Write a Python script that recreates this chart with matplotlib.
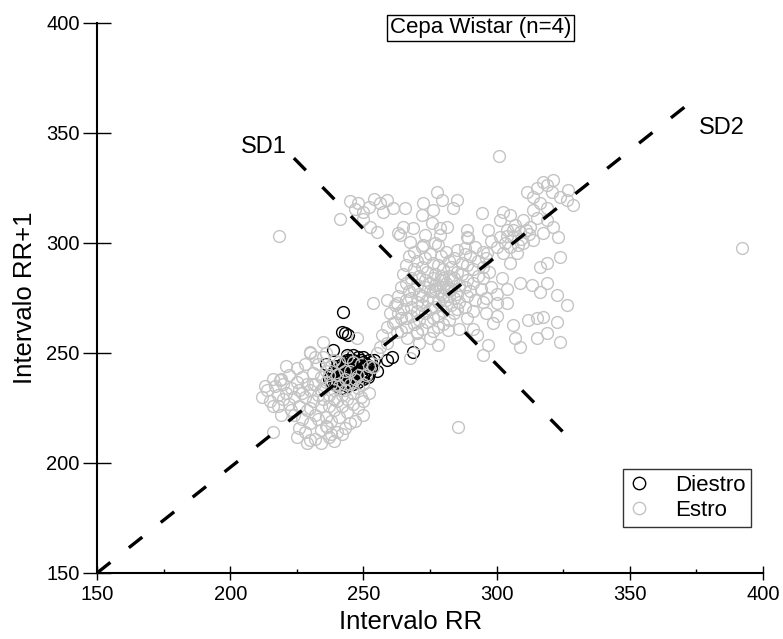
import matplotlib
matplotlib.use("Agg")
import matplotlib.pyplot as plt
import numpy as np

plt.rcParams['font.family'] = ['Liberation Sans', 'DejaVu Sans']
plt.rcParams['lines.scale_dashes'] = False

# Diestro (negro): nube compacta + algunos puntos sueltos
diestro = [
    (238, 237), (239, 239), (239, 236), (240, 238), (240, 241), (241, 237), (241, 240),
    (242, 239), (242, 242), (242, 236), (243, 241), (243, 238), (243, 244), (244, 240),
    (244, 243), (244, 237), (245, 242), (245, 239), (245, 245), (246, 241), (246, 244),
    (246, 238), (247, 243), (247, 240), (247, 246), (248, 242), (248, 245), (248, 239),
    (249, 244), (249, 241), (249, 247), (250, 243), (250, 246), (250, 240), (251, 245),
    (251, 242), (252, 244), (252, 247), (253, 246), (253, 243), (254, 247), (241, 243),
    (243, 246), (245, 247), (240, 235), (242, 234), (244, 235), (246, 236), (238, 240),
    (237, 238), (244, 245), (246, 247), (248, 248), (250, 248), (241, 238), (243, 240),
    (245, 241), (247, 242), (249, 243), (251, 244), (239, 242), (240, 244), (242, 245),
    (244, 247), (246, 249), (248, 237), (250, 238), (252, 241),
    (242.3, 268.6), (242, 259.5), (244.2, 258.2), (238.6, 251.4), (243.8, 249),
    (258.9, 246.8), (260.7, 248), (251.3, 240), (268.6, 250.5), (239.3, 237.7),
    (242.3, 242.3), (255, 242), (236, 245), (251.7, 239), (243, 259),
]

# Estro (gris): grupo inferior
estro_bajo = [
    (212, 230), (214, 233), (215, 228), (216, 226), (217, 235), (218, 231), (219, 238),
    (220, 229), (220, 236), (221, 232), (222, 227), (222, 240), (223, 234), (224, 230),
    (224, 222), (225, 237), (225, 243), (226, 226), (226, 233), (227, 239), (227, 220),
    (228, 230), (228, 245), (229, 236), (229, 224), (230, 250), (230, 233), (230, 218),
    (231, 228), (231, 241), (232, 236), (232, 222), (233, 231), (233, 245), (234, 226),
    (234, 239), (234, 215), (235, 234), (235, 229), (235, 248), (236, 221), (236, 237),
    (236, 242), (237, 231), (237, 226), (237, 212), (238, 236), (238, 244), (238, 219),
    (239, 229), (239, 233), (239, 224), (240, 240), (240, 214), (240, 228), (241, 235),
    (241, 246), (241, 221), (242, 231), (242, 226), (243, 238), (243, 216), (243, 233),
    (244, 229), (244, 223), (245, 236), (245, 242), (246, 227), (246, 232), (247, 219),
    (247, 238), (248, 234), (248, 225), (249, 230), (249, 245), (250, 236), (250, 222),
    (251, 240), (252, 232), (252, 244), (235, 255), (247.6, 256.8), (225, 212), (228, 214),
    (232, 211), (226, 216), (230, 225), (233, 220), (236, 217), (238, 213), (229, 209),
    (223, 224), (221, 244), (218, 226), (216, 238), (213, 235), (219, 222), (227, 232),
    (231, 236), (234, 233), (237, 240), (240, 236), (243, 242), (239, 247), (236, 250),
    (232, 248), (244, 248), (246, 246), (248, 240), (250, 228), (245, 218), (242, 213),
    (239, 210), (234, 209), (216, 214), (230, 210.5), (236.3, 216.4), (218.7, 237.7),
    (230, 250.5),
]

# Estro: puntos entre el grupo inferior y el central
estro_puente = [
    (253.6, 272.7), (258.9, 274), (262.6, 272.7), (258.9, 261.8), (261, 263.6),
    (256.2, 252.7), (258.9, 254.5), (262.6, 259.5), (253.6, 243.6), (255, 250),
    (257, 258), (260, 268), (264, 266), (266.4, 257), (270, 259), (267.5, 247.7),
    (271, 254.5), (278, 253.6), (281.8, 260.5), (275, 257),
]

# Estro: nucleo central
estro_centro = [
    (272, 298), (278, 299), (285, 297), (292, 298),
    (269, 296), (275, 295), (281, 296), (288, 295), (295, 296),
    (267, 294), (273, 293), (279, 294), (284, 293), (290, 294), (296, 293),
    (270, 292), (276, 291), (282, 292), (287, 291), (293, 292),
    (266, 290), (272, 289), (278, 290), (283, 289), (289, 290), (295, 289),
    (269, 288), (274, 287), (280, 288), (285, 287), (291, 288), (297, 287),
    (265, 286), (271, 285), (277, 286), (282, 285), (287, 286), (293, 285),
    (268, 284), (273, 283), (276, 284), (279, 283), (284, 284), (289, 283), (295, 284),
    (266, 282), (270, 281), (275, 282), (278, 281), (281, 282), (286, 281), (291, 282),
    (264, 280), (269, 279), (273, 280), (277, 279), (280, 280), (283, 279), (288, 280), (294, 279),
    (267, 278), (271, 277), (275, 278), (279, 277), (282, 278), (285, 277), (290, 278),
    (263, 276), (268, 275), (272, 276), (276, 275), (280, 276), (284, 275), (289, 276), (296, 275),
    (266, 274), (270, 273), (274, 274), (278, 273), (281, 274), (286, 273), (292, 274),
    (262, 272), (268, 271), (272, 272), (277, 271), (283, 272), (288, 271),
    (265, 270), (270, 269), (275, 270), (280, 269), (285, 270), (291, 269),
    (263, 268), (268, 267), (273, 268), (278, 267), (284, 268),
    (266, 266), (271, 265), (276, 266), (282, 265), (289, 266),
    (262, 264), (269, 263), (274, 264), (280, 263),
    (266, 262), (272, 261), (278, 262), (286, 261),
    (264, 260), (270, 259.5), (276, 260),
    (279, 285), (281, 279), (277, 281), (283, 283), (276, 278), (280, 284), (282, 276),
]

# Estro: grupo superior izquierdo
estro_izq = [
    (246.8, 315.5), (249.8, 314), (241.2, 311), (256.2, 318), (258.9, 319.5),
    (261, 316), (257.4, 314), (255.1, 305), (252.5, 307.3), (263, 304.5),
    (248, 318), (252, 316.5), (254, 320), (245, 319), (250, 311),
    (277.6, 323), (265.6, 316), (272.4, 318), (279.5, 319.5), (285, 319.5),
    (283.6, 316), (276, 315), (272, 312.7), (264.9, 307.3), (268.6, 306.8),
    (263.7, 303.6), (275.8, 309), (278.8, 306.8), (281.4, 307.3), (288.9, 306),
    (289.3, 302.3), (294.5, 313.6), (296.8, 306), (273, 303.6), (267.5, 300.5),
    (272.4, 299), (276.9, 300), (278.8, 303.6), (288.9, 302.7), (288.1, 297.7),
    (296.4, 295.5),
]

# Estro: grupo superior derecho
estro_sup = [
    (302.4, 314), (301.3, 310.5), (305, 312.7), (311.4, 323), (313.7, 321),
    (315.2, 325), (319, 326.4), (320.8, 323), (323.8, 321), (326.4, 319.5),
    (328.7, 317.3), (326.8, 324), (321, 328.6), (317.4, 327.7), (316.3, 318),
    (319, 316), (313.7, 315), (310, 310.5), (307, 308), (303.9, 306),
    (301.3, 302.7), (306.2, 302.7), (308.8, 305), (312.5, 307.3), (315.2, 311.4),
    (319, 310.5), (321.2, 307.3), (323, 302.7), (317.4, 304.5), (313.7, 301.4),
    (310, 300), (305, 298), (302.4, 295.5), (307.7, 295.5), (323.8, 293.6),
    (318.9, 291), (316.3, 289), (305, 291), (304, 303), (306, 306), (309, 302),
    (311, 306), (308, 299), (312, 304), (303, 300), (300, 298), (298, 301),
]

# Estro: grupo a la derecha del nucleo
estro_der = [
    (294.9, 273), (300, 272.7), (303.9, 272.7), (306, 262.7), (307, 257),
    (308.8, 252.7), (311.8, 265), (315, 266), (317.4, 266.4), (315, 256.8),
    (318.9, 259), (322.7, 264), (323.8, 255), (326.4, 271.8), (322.7, 276.4),
    (318.9, 282), (316.3, 277.7), (313.3, 281), (308.8, 281.8), (298.6, 263.6),
    (300, 267), (295, 249), (296.8, 253.6), (292.6, 258), (291, 261),
    (298, 280), (302, 284), (300, 277), (296, 268), (304, 279),
]

# Estro: puntos aislados
estro_sueltos = [(218.3, 303), (301, 339.5), (392, 297.7), (285.5, 216.4)]

# Lineas SD1 y SD2 (extremos)
sd2_x = [150, 373.6]
sd2_y = [150, 364.7]
sd1_x = [223.9, 326.4]
sd1_y = [338.6, 212.3]

estro = np.array(estro_bajo + estro_puente + estro_centro + estro_izq
                 + estro_sup + estro_der + estro_sueltos)
diestro = np.array(diestro)

fig = plt.figure(figsize=(7.83, 6.39), dpi=100)
ax = fig.add_axes([97 / 783, 66 / 639, 666 / 783, 550 / 639])

ax.plot(diestro[:, 0], diestro[:, 1], 'o', mfc='none', mec='black', ms=8.5, mew=1.0,
        label='Diestro')
ax.plot(estro[:, 0], estro[:, 1], 'o', mfc='none', mec='#c4c4c4', ms=8.5, mew=1.0,
        label='Estro')

ax.plot(sd2_x, sd2_y, color='black', lw=2.4, dashes=(12.3, 17), dash_capstyle='butt')
ax.plot(sd1_x, sd1_y, color='black', lw=2.4, dashes=(12.3, 17), dash_capstyle='butt')

ax.text(212.7, 340.8, 'SD1', fontsize=17, ha='center', va='baseline')
ax.text(384.6, 349.5, 'SD2', fontsize=17, ha='center', va='baseline')

ax.set_xlim(150, 400)
ax.set_ylim(150, 400)
ax.set_xticks([150, 200, 250, 300, 350, 400])
ax.set_yticks([150, 200, 250, 300, 350, 400])
ax.set_xticks([175, 225, 275, 325, 375], minor=True)
ax.tick_params(axis='x', which='major', direction='inout', length=10, width=1, pad=4,
               labelsize=14.5)
ax.tick_params(axis='x', which='minor', direction='in', length=3, width=1)
ax.tick_params(axis='y', which='major', direction='inout', length=20, width=1, pad=2.5,
               labelsize=14.5)

for s in ['top', 'right']:
    ax.spines[s].set_visible(False)
for s in ['left', 'bottom']:
    ax.spines[s].set_linewidth(1.5)

ax.set_xlabel('Intervalo RR', fontsize=18.5)
ax.set_ylabel('Intervalo RR+1', fontsize=18.5)
ax.xaxis.set_label_coords(0.471, -0.089)
ax.xaxis.label.set_va('center')
ax.yaxis.set_label_coords(-0.108, 0.5)
ax.yaxis.label.set_va('center')

leg = ax.legend(loc='lower right', bbox_to_anchor=(0.982, 0.084), fontsize=16,
                frameon=True, fancybox=False, borderpad=0.25, labelspacing=0.2,
                handlelength=1.0, handletextpad=1.1, borderaxespad=0, markerscale=1.05)
leg.get_frame().set_edgecolor('black')
leg.get_frame().set_linewidth(1.0)

fig.text(480.7 / 783, 1 - 33.5 / 639, 'Cepa Wistar (n=4)', fontsize=16, ha='center',
         va='baseline', bbox=dict(boxstyle='square,pad=0.12', fc='white', ec='black', lw=1))

fig.savefig('out.png', dpi=100)
